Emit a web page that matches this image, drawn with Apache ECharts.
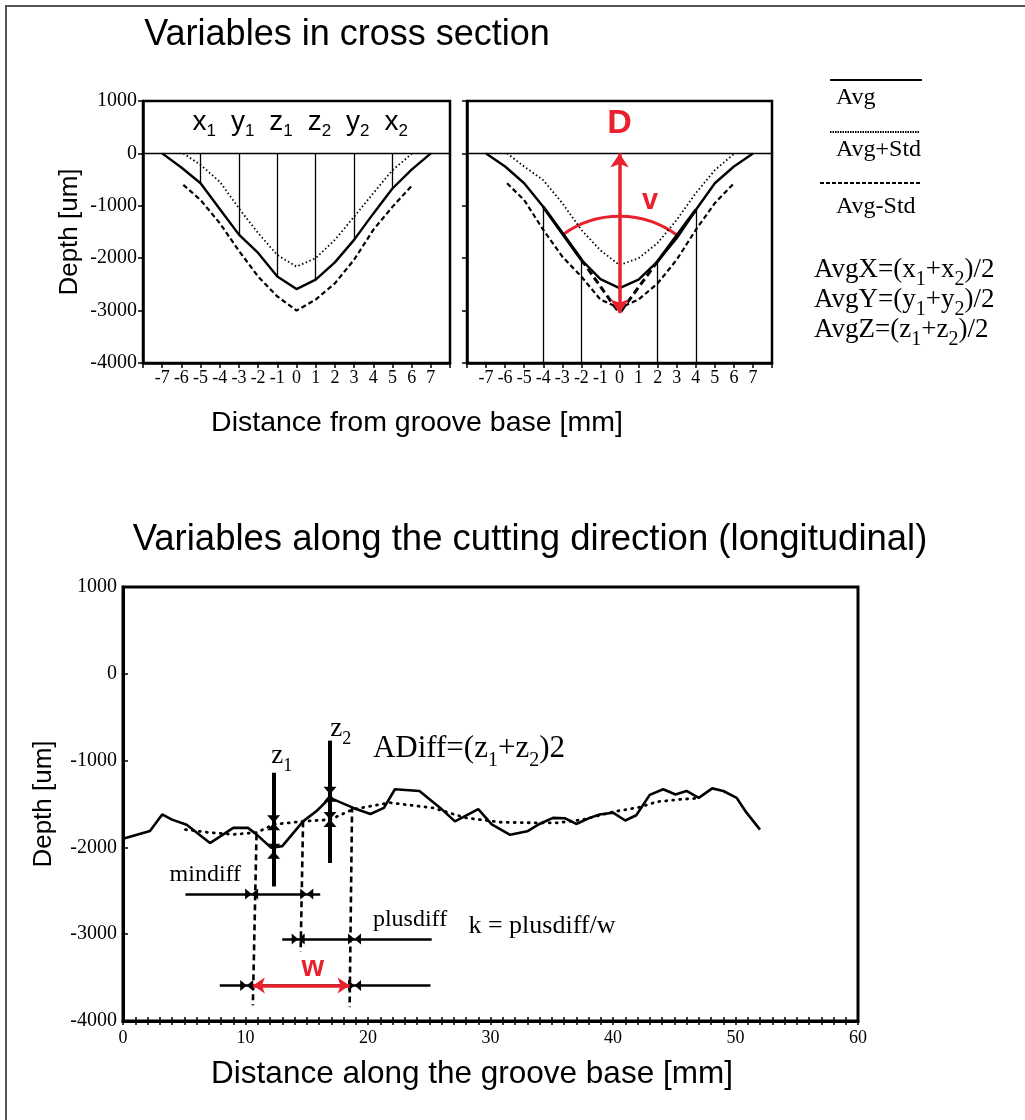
<!DOCTYPE html>
<html>
<head>
<meta charset="utf-8">
<title>Groove variables</title>
<script src="https://cdn.jsdelivr.net/npm/echarts@6/dist/echarts.min.js"></script>
<style>
  html, body { margin: 0; padding: 0; background: #fff; }
  #frame { position: absolute; left: 5px; top: 5px; width: 1020px; height: 1115px;
           border-left: 2px solid #555; border-top: 2px solid #555; }
  #chart { position: absolute; left: 0; top: 0; width: 1025px; height: 1120px; }
</style>
</head>
<body>
<div id="frame"></div>
<div id="chart"></div>
<script>
// ---- cross section (top) ----
const crossX = [-7, -6, -5, -4, -3, -2, -1, 0, 1, 2, 3, 4, 5, 6, 7]
const avgLeft = [0, -270, -570, -1060, -1550, -1900, -2350, -2590, -2410, -2080, -1650, -1150, -670, -310, 0]
const avgRight = [0, -250, -570, -1020, -1520, -2030, -2400, -2570, -2410, -2060, -1620, -1080, -570, -250, 0]
const stdX = [-5.9, -5, -4, -3, -2, -1, 0, 1, 2, 3, 4, 5, 6]
const plusLeft = [0, -220, -540, -1050, -1520, -1940, -2160, -2000, -1650, -1210, -760, -320, -10]
const minusLeft = [-600, -890, -1330, -1860, -2350, -2730, -3000, -2790, -2480, -2030, -1460, -1020, -620]
const plusRight = [0, -250, -510, -950, -1460, -1850, -2130, -2000, -1710, -1270, -760, -320, -10]
const minusRight = [-570, -890, -1460, -1970, -2350, -2790, -2950, -2790, -2480, -2030, -1460, -950, -570]

const markX = [-5, -3, -1, 1, 3, 5]
const markName = ['x', 'y', 'z', 'z', 'y', 'x']
const markSub = ['1', '1', '1', '2', '2', '2']
const angleX = [-4, -2, 2, 4]
const depthD = -3050
const arcTopY = -1200

// ---- longitudinal (bottom) ----
const profX = [0, 2.2, 3.2, 4.0, 5.2, 7.1, 9.0, 10.2, 10.9, 12.1, 13.0, 14.7, 15.8, 16.9, 18.8, 20.2, 21.3, 22.2, 24.2, 25.9, 27.1, 29.0, 30.1, 31.6, 33.0, 34.0, 35.1, 36.1, 37.0, 38.1, 38.9, 40.0, 41.0, 41.9, 43.0, 44.1, 45.1, 46.0, 47.0, 48.1, 49.0, 50.1, 50.9, 52.0]
const profY = [-1900, -1810, -1620, -1680, -1740, -1950, -1775, -1775, -1850, -2005, -1985, -1700, -1580, -1430, -1545, -1615, -1545, -1330, -1350, -1545, -1700, -1560, -1735, -1855, -1815, -1730, -1660, -1665, -1730, -1660, -1620, -1600, -1690, -1630, -1395, -1330, -1390, -1350, -1430, -1320, -1350, -1430, -1600, -1795]
const trendX = [5.1, 7.1, 9.0, 10.9, 12.3, 14.7, 16.9, 18.8, 21.8, 25.3, 28.0, 30.8, 33.5, 35.5, 37.6, 40.0, 42.2, 43.6, 45.5, 46.8]
const trendY = [-1795, -1830, -1850, -1830, -1735, -1700, -1680, -1560, -1485, -1545, -1660, -1710, -1717, -1717, -1678, -1590, -1536, -1474, -1447, -1435]

const zLineX = [12.3, 16.9]
const zLineTop = [-1140, -770]
const zLineBottom = [-2450, -2180]
const zMarkUpper = [-1717, -1389]
const zMarkLower = [-2044, -1678]

const dashTopX = [10.9, 14.7, 18.7]
const dashTopY = [-1850, -1700, -1530]
const dashBottomX = [10.6, 14.5, 18.5]
const dashBottomY = [-3820, -3200, -3840]

const barStartX = [5.1, 13.0, 7.9]
const barEndX = [16.1, 25.2, 25.1]
const barY = [-2537, -3054, -3591]
const barMarkA = [10.5, 14.3, 10.1]
const barMarkB = [15.0, 18.9, 18.9]
const wArrowX = [10.6, 18.5]

const red = '#e8212d'
const serif = '"Liberation Serif", "Times New Roman", serif'
const sans = '"Liberation Sans", Arial, sans-serif'
const hourglass = 'path://M0,0L10,0L0,12L10,12Z'

const zip = (xs, ys) => xs.map((x, i) => [x, ys[i]])
const valueAt = (xs, ys, x) => ys[xs.indexOf(x)]
const seg = (a, b, style) => [{ coord: a, lineStyle: style }, { coord: b }]

const chart = echarts.init(document.getElementById('chart'))

// 上方两个截面图共用的曲线
const crossSeries = (g, avg, plus, minus, extraLines) => [
  {
    type: 'line', xAxisIndex: g, yAxisIndex: g, symbol: 'none', silent: true,
    data: [[-8, 0], [8, 0]],
    lineStyle: { color: '#000', width: 1.5 },
    markLine: {
      silent: true, symbol: 'none', label: { show: false },
      lineStyle: { color: '#000', width: 1.3, type: 'solid' },
      data: extraLines,
    },
  },
  { type: 'line', xAxisIndex: g, yAxisIndex: g, symbol: 'none', data: zip(crossX, avg),
    lineStyle: { color: '#000', width: 2.4 } },
  { type: 'line', xAxisIndex: g, yAxisIndex: g, symbol: 'none', data: zip(stdX, plus),
    lineStyle: { color: '#000', width: 1.8, type: [1.5, 2.5] } },
  { type: 'line', xAxisIndex: g, yAxisIndex: g, symbol: 'none', data: zip(stdX, minus),
    lineStyle: { color: '#000', width: 2.2, type: [5, 3] } },
]

const leftLines = markX.map(x => seg([x, 0], [x, valueAt(crossX, avgLeft, x)]))
const rightLines = angleX.map(x => seg([x, -4000], [x, valueAt(crossX, avgRight, x)]))
const vBold = { color: '#000', width: 3.2, type: 'solid' }
const vDash = { color: '#000', width: 3, type: [7, 4] }
const yR = x => valueAt(crossX, avgRight, x)
rightLines.push(
  seg([angleX[0], yR(angleX[0])], [angleX[1], yR(angleX[1])], vBold),
  seg([angleX[3], yR(angleX[3])], [angleX[2], yR(angleX[2])], vBold),
  seg([angleX[1], yR(angleX[1])], [0, depthD], vDash),
  seg([angleX[2], yR(angleX[2])], [0, depthD], vDash),
)

// 文字标注用透明散点承载
const textSeries = (g, items, labelBase, rich) => ({
  type: 'scatter', xAxisIndex: g, yAxisIndex: g, symbolSize: 1, silent: true,
  itemStyle: { color: 'rgba(0,0,0,0)', opacity: 1 },
  data: items.map(it => ({ value: it.at, text: it.text, label: it.label || {} })),
  label: Object.assign({
    show: true, position: 'inside', color: '#000',
    formatter: p => p.data.text,
    rich: rich || {},
  }, labelBase),
})

const subRich = (size, base, color) => ({
  s: { fontSize: size, fontFamily: base, color: color || '#000', padding: [Math.round(size * 1.1), 0, 0, 0] },
})

const xCross = g => ({
  type: 'value', gridIndex: g, min: -8, max: 8, interval: 1,
  axisLine: { onZero: false, lineStyle: { color: '#000', width: 2.5 } },
  axisTick: { length: 5, lineStyle: { color: '#000', width: 1.5 } },
  axisLabel: { color: '#000', fontFamily: serif, fontSize: 18, margin: 6,
    formatter: v => (Math.abs(v) === 8 ? '' : String(v)) },
  splitLine: { show: false },
})

const yDepth = g => ({
  type: 'value', gridIndex: g, min: -4000, max: 1000, interval: 1000,
  axisLine: { show: true, onZero: false, lineStyle: { color: '#000', width: 2.5 } },
  axisTick: { show: true, length: 5, lineStyle: { color: '#000', width: 1.5 } },
  axisLabel: { color: '#000', fontFamily: serif, fontSize: 20, margin: 6, formatter: v => String(v) },
  nameTextStyle: { fontFamily: sans, fontSize: 26, color: '#000' },
  splitLine: { show: false },
})

const option = {
  animation: false,
  title: [
    { text: 'Variables in cross section', left: 342, top: 12, textAlign: 'center',
      textStyle: { fontFamily: sans, fontSize: 36, fontWeight: 'normal', color: '#000' } },
    { text: 'Distance from groove base [mm]', left: 412, top: 404, textAlign: 'center',
      textStyle: { fontFamily: sans, fontSize: 28.5, fontWeight: 'normal', color: '#000' } },
    { text: 'Variables along the cutting direction (longitudinal)', left: 525, top: 516, textAlign: 'center',
      textStyle: { fontFamily: sans, fontSize: 36.5, fontWeight: 'normal', color: '#000' } },
    { text: 'Distance along the groove base [mm]', left: 467, top: 1053, textAlign: 'center',
      textStyle: { fontFamily: sans, fontSize: 31.5, fontWeight: 'normal', color: '#000' } },
  ],
  grid: [
    { left: 143, top: 101, width: 307, height: 262, show: true, borderColor: '#000', borderWidth: 2.5 },
    { left: 467, top: 101, width: 305, height: 262, show: true, borderColor: '#000', borderWidth: 2.5 },
    { left: 123, top: 587, width: 735, height: 434, show: true, borderColor: '#000', borderWidth: 3 },
  ],
  xAxis: [
    xCross(0),
    xCross(1),
    { type: 'value', gridIndex: 2, min: 0, max: 60, interval: 1,
      axisLine: { onZero: false, lineStyle: { color: '#000', width: 3 } },
      axisTick: { length: 4, lineStyle: { color: '#000', width: 1.5 } },
      axisLabel: { color: '#000', fontFamily: serif, fontSize: 18, margin: 8,
        formatter: v => (v % 10 === 0 ? String(v) : '') },
      splitLine: { show: false } },
    { type: 'value', gridIndex: 2, min: 0, max: 60, interval: 1, position: 'bottom',
      axisLine: { show: false, onZero: false },
      axisTick: { inside: true, length: 4, lineStyle: { color: '#000', width: 1.5 } },
      axisLabel: { show: false }, splitLine: { show: false } },
  ],
  yAxis: [
    Object.assign(yDepth(0), { name: 'Depth [um]', nameLocation: 'middle', nameGap: 60 }),
    Object.assign(yDepth(1), { axisLabel: { show: false } }),
    Object.assign(yDepth(2), {
      name: 'Depth [um]', nameLocation: 'middle', nameGap: 66,
      axisLine: { show: true, onZero: false, lineStyle: { color: '#000', width: 3 } },
      axisTick: { show: true, inside: true, length: 5, lineStyle: { color: '#000', width: 1.5 } },
    }),
  ],
  series: [
    ...crossSeries(0, avgLeft, plusLeft, minusLeft, leftLines),
    ...crossSeries(1, avgRight, plusRight, minusRight, rightLines),
    // x1 y1 z1 ... 标签
    textSeries(0, markX.map((x, i) => ({ at: [x, 560], text: markName[i] + '{s|' + markSub[i] + '}' })),
      { fontFamily: sans, fontSize: 28, align: 'left', offset: [-8, -2] }, subRich(17, sans)),
    // D 箭头
    { type: 'line', xAxisIndex: 1, yAxisIndex: 1, symbol: 'none', data: [], silent: true,
      markLine: {
        silent: true, symbol: ['arrow', 'arrow'], symbolSize: 14, label: { show: false },
        lineStyle: { color: red, width: 3.5, type: 'solid' },
        data: [seg([0, 0], [0, depthD])],
      } },
    // 角度 v 的圆弧
    { type: 'custom', xAxisIndex: 1, yAxisIndex: 1, silent: true, data: [[0, depthD]],
      renderItem: (params, api) => {
        const c = api.coord([0, depthD])
        const top = api.coord([0, arcTopY])
        const l = api.coord([angleX[0], yR(angleX[0])])
        const r = api.coord([angleX[3], yR(angleX[3])])
        return {
          type: 'arc',
          shape: { cx: c[0], cy: c[1], r: c[1] - top[1],
            startAngle: Math.atan2(l[1] - c[1], l[0] - c[0]),
            endAngle: Math.atan2(r[1] - c[1], r[0] - c[0]), clockwise: true },
          style: { stroke: red, lineWidth: 3, fill: null },
        }
      } },
    textSeries(1, [{ at: [0, 560], text: 'D' }, { at: [1.6, -900], text: 'v', label: { fontSize: 29 } }],
      { fontFamily: sans, fontSize: 34, fontWeight: 'bold', color: red }),

    // ---- bottom ----
    { type: 'line', xAxisIndex: 2, yAxisIndex: 2, symbol: 'none', data: zip(profX, profY),
      lineStyle: { color: '#000', width: 2.6 },
      markLine: {
        silent: true, symbol: 'none', label: { show: false },
        lineStyle: { color: '#000', width: 2.6, type: 'solid' },
        data: [
          ...zLineX.map((x, i) => seg([x, zLineTop[i]], [x, zLineBottom[i]], { width: 4 })),
          ...dashTopX.map((x, i) => seg([x, dashTopY[i]], [dashBottomX[i], dashBottomY[i]], { type: [6, 4], width: 2.6 })),
          ...barStartX.map((x, i) => seg([x, barY[i]], [barEndX[i], barY[i]])),
        ],
      } },
    { type: 'line', xAxisIndex: 2, yAxisIndex: 2, symbol: 'none', data: zip(trendX, trendY),
      lineStyle: { color: '#000', width: 2.8, type: [1, 6], cap: 'round' } },
    // z 标记
    { type: 'scatter', xAxisIndex: 2, yAxisIndex: 2, symbol: hourglass, symbolSize: [13, 15], silent: true,
      itemStyle: { color: '#000', opacity: 1 },
      data: [...zip(zLineX, zMarkUpper), ...zip(zLineX, zMarkLower)] },
    { type: 'scatter', xAxisIndex: 2, yAxisIndex: 2, symbol: hourglass, symbolSize: [11, 13], symbolRotate: 90, silent: true,
      itemStyle: { color: '#000', opacity: 1 },
      data: [...zip(barMarkA, barY), ...zip(barMarkB, barY)] },
    // w 箭头
    { type: 'line', xAxisIndex: 2, yAxisIndex: 2, symbol: 'none', data: [], silent: true,
      markLine: {
        silent: true, symbol: ['arrow', 'arrow'], symbolSize: 12, label: { show: false },
        lineStyle: { color: red, width: 3.5, type: 'solid' },
        data: [seg([wArrowX[0], barY[2]], [wArrowX[1], barY[2]])],
      } },
    textSeries(2, [
      { at: [12.6, -950], text: 'z{s|1}' },
      { at: [17.4, -640], text: 'z{s|2}' },
    ], { fontFamily: serif, fontSize: 27, align: 'left', offset: [-6, 0] }, subRich(18, serif)),
    textSeries(2, [
      { at: [20.4, -870], text: 'ADiff=(z{s|1}+z{s|2})2', label: { fontSize: 31 } },
      { at: [3.8, -2309], text: 'mindiff' },
      { at: [20.4, -2829], text: 'plusdiff' },
      { at: [28.2, -2910], text: 'k = plusdiff/w', label: { fontSize: 26 } },
    ], { fontFamily: serif, fontSize: 24, align: 'left' }, subRich(20, serif)),
    textSeries(2, [{ at: [15.5, -3391], text: 'w' }],
      { fontFamily: sans, fontSize: 29, fontWeight: 'bold', color: red }),
  ],
  graphic: [
    { type: 'line', shape: { x1: 830, y1: 80, x2: 922, y2: 80 }, style: { stroke: '#000', lineWidth: 2 } },
    { type: 'text', left: 836, top: 86, style: { text: 'Avg', fontFamily: serif, fontSize: 24, fill: '#000' } },
    { type: 'line', shape: { x1: 830, y1: 132, x2: 920, y2: 132 }, style: { stroke: '#000', lineWidth: 2, lineDash: [1.5, 1] } },
    { type: 'text', left: 836, top: 138, style: { text: 'Avg+Std', fontFamily: serif, fontSize: 24, fill: '#000' } },
    { type: 'line', shape: { x1: 820, y1: 183, x2: 922, y2: 183 }, style: { stroke: '#000', lineWidth: 2, lineDash: [4, 2] } },
    { type: 'text', left: 836, top: 195, style: { text: 'Avg-Std', fontFamily: serif, fontSize: 24, fill: '#000' } },
    ...['X', 'Y', 'Z'].map((k, i) => ({
      type: 'text', left: 814, top: 256 + i * 30,
      style: {
        text: 'Avg' + k + '=(' + k.toLowerCase() + '{s|1}+' + k.toLowerCase() + '{s|2})/2',
        fontFamily: serif, fontSize: 27, fill: '#000',
        rich: { s: { fontFamily: serif, fontSize: 20, padding: [20, 0, 0, 0] } },
      },
    })),
  ],
}

chart.setOption(option)
</script>
</body>
</html>
